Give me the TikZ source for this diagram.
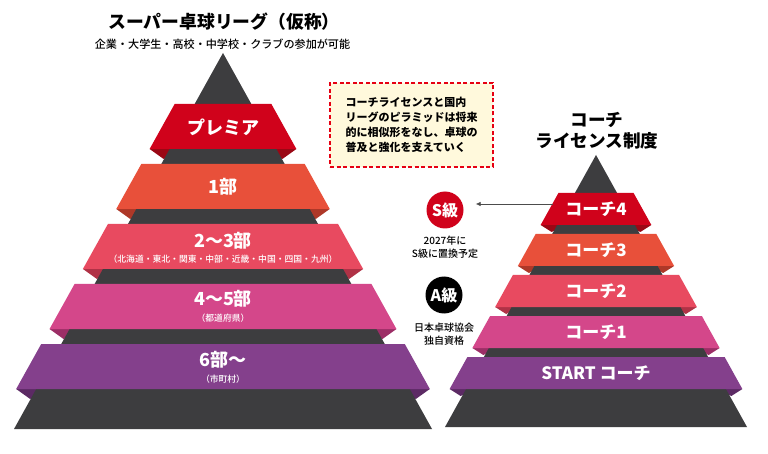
\documentclass[tikz,border=0pt]{standalone}
\usepackage{fontspec}
\newfontfamily\jp{Noto Sans CJK JP}
\newfontfamily\jpblack{Noto Sans CJK JP Black}
\newfontfamily\jpmed{Noto Sans CJK JP Medium}
\usetikzlibrary{arrows.meta}
\definecolor{pyr}{HTML}{3D3D3F}
\definecolor{c1}{HTML}{D0021B}\definecolor{f1}{HTML}{9A0815}
\definecolor{c2}{HTML}{E8503A}\definecolor{f2}{HTML}{AE3828}
\definecolor{c3}{HTML}{E84A60}\definecolor{f3}{HTML}{B03246}
\definecolor{c4}{HTML}{D4478A}\definecolor{f4}{HTML}{9C2E66}
\definecolor{c5}{HTML}{84408C}\definecolor{f5}{HTML}{5C2A64}
\definecolor{noteyellow}{HTML}{FFF9DC}
\definecolor{notered}{HTML}{E60012}
\tikzset{
  bandtxt/.style={text=white, inner sep=0pt, font=\jp\bfseries\fontsize{18}{20}\selectfont},
  rbandtxt/.style={text=white, inner sep=0pt, font=\jp\bfseries\fontsize{17}{20}\selectfont},
  subtxt/.style={text=white, inner sep=0pt, font=\jpmed\fontsize{8.8}{10}\selectfont},
  titletxt/.style={inner sep=0pt, align=center, font=\jpblack\fontsize{17.8}{21}\selectfont},
  smalltxt/.style={inner sep=0pt, align=center, font=\jpmed\fontsize{10}{13}\selectfont},
  badge/.style={circle, minimum size=37pt, inner sep=0pt, text=white, font=\jp\bfseries\fontsize{16}{18}\selectfont},
  notebox/.style={draw=notered, dashed, dash pattern=on 4pt off 2.5pt, line width=1.6pt, fill=noteyellow,
    minimum width=163pt, minimum height=84pt, inner sep=0pt, align=left,
    font=\jp\bfseries\fontsize{11}{15}\selectfont}
}
\begin{document}
\begin{tikzpicture}[x=1pt,y=-1pt]
\useasboundingbox[fill=white] (0,0) rectangle (768,454);

% ---------- left pyramid ----------
\foreach \k/\col in {0/f1,1/f2,2/f3,3/f4,4/f5}{
  \pgfmathsetmacro\yb{149+60*\k}
  \pgfmathsetmacro\hw{0.556*(\yb-53)+20}
  \fill[\col] (223-\hw,\yb) -- (223-\hw+32,\yb) -- (223-\hw+14,\yb+10) -- cycle;
  \fill[\col] (223+\hw,\yb) -- (223+\hw-32,\yb) -- (223+\hw-14,\yb+10) -- cycle;
}
\fill[pyr] (223,53) -- (14,429) -- (432,429) -- cycle;
\foreach \k/\col in {0/c1,1/c2,2/c3,3/c4,4/c5}{
  \pgfmathsetmacro\yt{104+60*\k}
  \pgfmathsetmacro\yb{\yt+45}
  \pgfmathsetmacro\ht{0.556*(\yt-53)+20}
  \pgfmathsetmacro\hb{0.556*(\yb-53)+20}
  \fill[\col] (223-\ht,\yt) -- (223+\ht,\yt) -- (223+\hb,\yb) -- (223-\hb,\yb) -- cycle;
}
\node[bandtxt] (L1) at (223,127) {プレミア};
\node[bandtxt] (L2) at (223,187) {1部};
\node[bandtxt] (L3) at (223,241) {2〜3部};
\node[subtxt] (L3s) at (223,259.5) {（北海道・東北・関東・中部・近畿・中国・四国・九州）};
\node[bandtxt] (L4) at (223,299) {4〜5部};
\node[subtxt] (L4s) at (223,318) {（都道府県）};
\node[bandtxt] (L5) at (223,360) {6部〜};
\node[subtxt] (L5s) at (223,379) {（市町村）};

\node[titletxt] (ltitle) at (224,22) {スーパー卓球リーグ（仮称）};
\node[smalltxt, font=\jpmed\fontsize{11.1}{13}\selectfont] (lsub) at (222.5,44) {企業・大学生・高校・中学校・クラブの参加が可能};

% ---------- note ----------
\node[notebox] (note) at (411.5,125) {コーチライセンスと国内\\リーグのピラミッドは将来\\的に相似形をなし、卓球の\\普及と強化を支えていく};

% ---------- right pyramid ----------
\foreach \k/\col in {0/f1,1/f2,2/f3,3/f4,4/f5}{
  \pgfmathsetmacro\yb{225+41*\k}
  \pgfmathsetmacro\hw{0.555*(\yb-155)+16.5}
  \fill[\col] (596-\hw,\yb) -- (596-\hw+24,\yb) -- (596-\hw+11,\yb+7) -- cycle;
  \fill[\col] (596+\hw,\yb) -- (596+\hw-24,\yb) -- (596+\hw-11,\yb+7) -- cycle;
}
\fill[pyr] (596,155) -- (445,427) -- (747,427) -- cycle;
\foreach \k/\col in {0/c1,1/c2,2/c3,3/c4,4/c5}{
  \pgfmathsetmacro\yt{193+41*\k}
  \pgfmathsetmacro\yb{\yt+32}
  \pgfmathsetmacro\ht{0.555*(\yt-155)+16.5}
  \pgfmathsetmacro\hb{0.555*(\yb-155)+16.5}
  \fill[\col] (596-\ht,\yt) -- (596+\ht,\yt) -- (596+\hb,\yb) -- (596-\hb,\yb) -- cycle;
}
\node[rbandtxt] (R4) at (596,209.5) {コーチ4};
\node[rbandtxt] (R3) at (596,250.5) {コーチ3};
\node[rbandtxt] (R2) at (596,291.5) {コーチ2};
\node[rbandtxt] (R1) at (596,332.5) {コーチ1};
\node[rbandtxt] (R0) at (596,373.5) {START コーチ};

\node[titletxt, font=\jpblack\fontsize{17.6}{21}\selectfont] (rtitle) at (597,131) {コーチ\\ライセンス制度};

% ---------- badges ----------
\node[badge, fill=c1] (S) at (445,210) {S級};
\node[smalltxt] (Stxt) at (445,247.5) {2027年に\\S級に置換予定};
\node[badge, fill=black] (A) at (444,295) {A級};
\node[smalltxt] (Atxt) at (444,334.5) {日本卓球協会\\独自資格};

\coordinate (c4edge) at (553,204);
\draw[-{Latex[length=5pt,width=4.5pt]}, black!70, line width=0.7pt] (c4edge) -- ([xshift=12pt]c4edge -| S.east);
\end{tikzpicture}
\end{document}
